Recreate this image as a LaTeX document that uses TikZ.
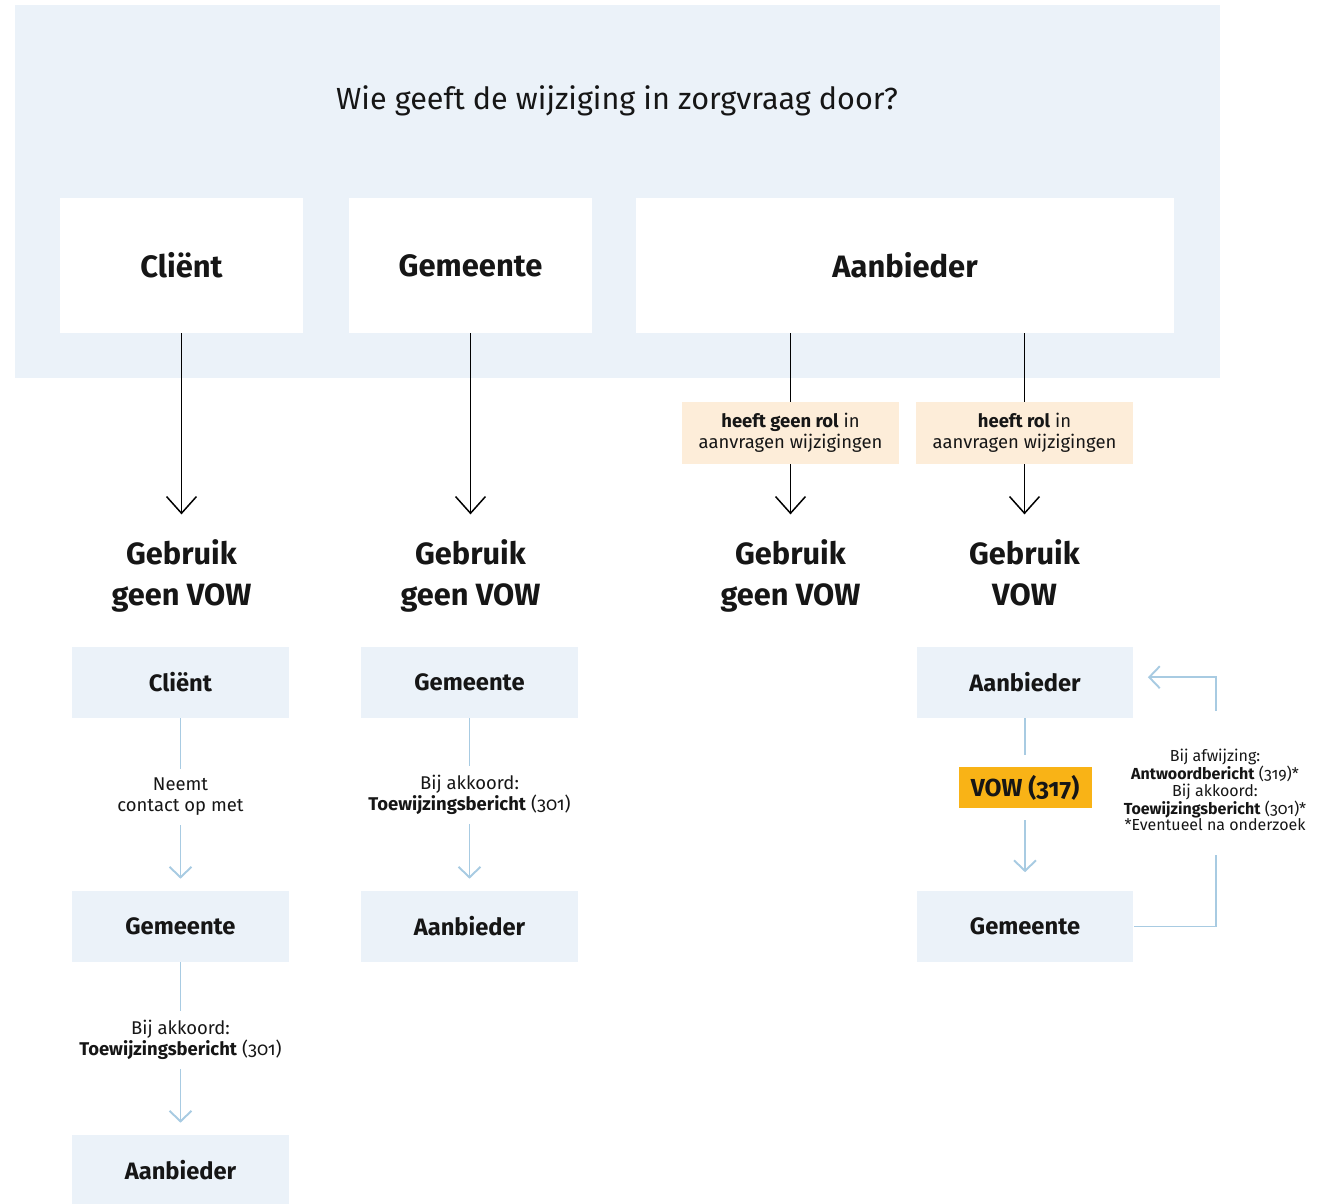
\documentclass[tikz,border=0pt]{standalone}
\usepackage{fontspec}
\setmainfont{Fira Sans}[Numbers=OldStyle]
\usetikzlibrary{arrows.meta,positioning,calc}
\definecolor{vlak}{RGB}{235,242,249}
\definecolor{zand}{RGB}{253,237,217}
\definecolor{oranje}{RGB}{249,179,22}
\definecolor{lijn}{RGB}{168,203,226}
\definecolor{tekst}{RGB}{22,22,22}

\begin{document}
\begin{tikzpicture}[x=0.02cm, y=-0.02cm, tekst,
    kop/.style={fill=white, minimum height=2.7cm, font=\fontsize{17.6}{20}\selectfont\bfseries},
    rol/.style={fill=zand, minimum width=4.34cm, minimum height=1.24cm, align=center, font=\fontsize{10.5}{12}\selectfont},
    uitkomst/.style={align=center, font=\fontsize{17.5}{23}\selectfont\bfseries},
    partij/.style={fill=vlak, minimum width=4.34cm, minimum height=1.42cm, font=\fontsize{13.5}{16}\selectfont\bfseries},
    bericht/.style={align=center, inner sep=5pt, font=\fontsize{10.5}{12}\selectfont},
    zwart/.style={line width=0.85pt, black},
    blauw/.style={line width=1.1pt, lijn},
    zpijl/.style={-{Straight Barb[length=9.5pt,width=17pt]}},
    bpijl/.style={-{Straight Barb[length=6pt,width=12.5pt]}}]

    \useasboundingbox (0,0) rectangle (1321,1203);

    % vraag bovenaan
    \fill[vlak] (15,5) rectangle (1220,378);
    \node[font=\fontsize{17.4}{20}\selectfont] (vraag) at (617,101) {Wie geeft de wijziging in zorgvraag door?};

    \node[kop, minimum width=4.86cm] (kCl) at (181.5,265.5) {Cliënt};
    \node[kop, minimum width=4.86cm] (kGe) at (470.5,265.5) {Gemeente};
    \node[kop, minimum width=10.76cm] (kAa) at (905,265.5) {Aanbieder};

    % rol van de aanbieder
    \node[rol] (rGeen) at (790.5,433) {\textbf{heeft geen rol} in\\aanvragen wijzigingen};
    \node[rol] (rWel) at (1024.5,433) {\textbf{heeft rol} in\\aanvragen wijzigingen};

    % uitkomsten
    \node[uitkomst] (u1) at (181.5,576) {Gebruik\\geen VOW};
    \node[uitkomst] (u2) at (470.5,576) {Gebruik\\geen VOW};
    \node[uitkomst] (u3) at (790.5,576) {Gebruik\\geen VOW};
    \node[uitkomst] (u4) at (1024.5,576) {Gebruik\\VOW\vphantom{g}};

    \draw[zwart, zpijl, shorten >=11pt] (kCl) -- (u1);
    \draw[zwart, zpijl, shorten >=11pt] (kGe) -- (u2);
    \draw[zwart] (kAa.south -| rGeen) -- (rGeen);
    \draw[zwart] (kAa.south -| rWel) -- (rWel);
    \draw[zwart, zpijl, shorten >=11pt] (rGeen) -- (u3);
    \draw[zwart, zpijl, shorten >=11pt] (rWel) -- (u4);

    % cliënt
    \node[partij] (p11) at (180.5,682.5) {Cliënt};
    \node[bericht] (b11) at (180.5,797) {Neemt\\contact op met};
    \node[partij] (p12) at (180.5,926.5) {Gemeente};
    \node[bericht] (b12) at (180.5,1040) {Bij akkoord:\\\textbf{Toewijzingsbericht} (301)};
    \node[partij] (p13) at (180.5,1170.5) {Aanbieder};

    \draw[blauw] (p11) -- (b11);
    \draw[blauw, bpijl, shorten >=6.8pt] (b11) -- (p12);
    \draw[blauw] (p12) -- (b12);
    \draw[blauw, bpijl, shorten >=6.8pt] (b12) -- (p13);

    % gemeente
    \node[partij] (p21) at (469.5,682.5) {Gemeente};
    \node[bericht] (b21) at (469.5,795) {Bij akkoord:\\\textbf{Toewijzingsbericht} (301)};
    \node[partij] (p22) at (469.5,926.5) {Aanbieder};

    \draw[blauw] (p21) -- (b21);
    \draw[blauw, bpijl, shorten >=6.8pt] (b21) -- (p22);

    % aanbieder met VOW
    \node[partij] (p41) at (1025,682.5) {Aanbieder};
    \node[fill=oranje, minimum width=2.66cm, minimum height=0.82cm, font=\fontsize{14}{16}\selectfont\bfseries] (vow) at (1025,787.5) {VOW (317)};
    \node[partij] (p42) at (1025,926.5) {Gemeente};

    \draw[blauw, shorten >=6.8pt] (p41) -- (vow);
    \draw[blauw, bpijl, shorten <=6.8pt, shorten >=10.5pt] (vow) -- (p42);

    \node[align=center, font=\fontsize{9.1}{9.2}\selectfont] (terug) at (1215,790)
        {Bij afwijzing:\\\textbf{Antwoordbericht} (319)*\\Bij akkoord:\\\textbf{Toewijzingsbericht} (301)*\\*Eventueel na onderzoek};
    \coordinate (lusOnder) at (1216,855);
    \coordinate (lusBoven) at (1216,711);
    \draw[blauw] (p42.east) -| (lusOnder);
    \draw[blauw, bpijl, shorten >=8pt] (lusBoven) |- ([yshift=3pt]p41.east);

\end{tikzpicture}
\end{document}
